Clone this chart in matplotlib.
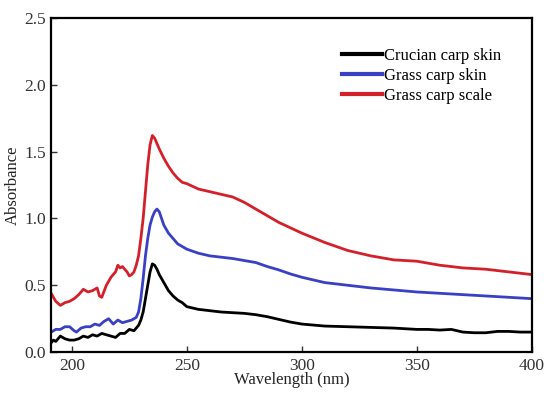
import matplotlib
matplotlib.use("Agg")
import matplotlib.pyplot as plt

# Crucian carp skin (black)
wl_black = [191, 192, 193, 195, 197, 199, 201, 203, 205, 207, 209, 211, 213, 215, 217, 219, 221, 223, 225, 227, 229, 230, 231, 232, 233, 234, 235, 236, 237, 238, 240, 242, 244, 246, 248, 250, 255, 260, 265, 270, 275, 280, 285, 290, 295, 300, 310, 320, 330, 340, 350, 355, 360, 365, 370, 375, 380, 385, 390, 395, 400]
ab_black = [0.07, 0.09, 0.08, 0.12, 0.10, 0.09, 0.09, 0.10, 0.12, 0.11, 0.13, 0.12, 0.14, 0.13, 0.12, 0.11, 0.14, 0.14, 0.17, 0.16, 0.20, 0.24, 0.30, 0.40, 0.50, 0.60, 0.66, 0.65, 0.62, 0.58, 0.52, 0.46, 0.42, 0.39, 0.37, 0.34, 0.32, 0.31, 0.30, 0.295, 0.29, 0.28, 0.265, 0.245, 0.225, 0.21, 0.195, 0.19, 0.185, 0.18, 0.17, 0.17, 0.165, 0.17, 0.15, 0.145, 0.145, 0.155, 0.155, 0.15, 0.15]

# Grass carp skin (blue)
wl_blue = [191, 193, 195, 197, 199, 201, 202, 204, 206, 208, 210, 212, 214, 216, 218, 220, 222, 224, 226, 228, 229, 230, 231, 232, 233, 234, 235, 236, 237, 238, 239, 240, 242, 244, 246, 248, 250, 255, 260, 265, 270, 275, 280, 285, 290, 295, 300, 310, 320, 330, 340, 350, 360, 370, 380, 390, 400]
ab_blue = [0.15, 0.17, 0.17, 0.19, 0.19, 0.16, 0.15, 0.18, 0.19, 0.19, 0.21, 0.20, 0.23, 0.25, 0.21, 0.24, 0.22, 0.23, 0.24, 0.26, 0.30, 0.40, 0.55, 0.72, 0.85, 0.95, 1.01, 1.05, 1.07, 1.05, 1.00, 0.95, 0.89, 0.85, 0.81, 0.79, 0.77, 0.74, 0.72, 0.71, 0.70, 0.685, 0.67, 0.64, 0.615, 0.585, 0.56, 0.52, 0.50, 0.48, 0.465, 0.45, 0.44, 0.43, 0.42, 0.41, 0.40]

# Grass carp scale (red)
wl_red = [191, 193, 195, 197, 199, 201, 203, 205, 207, 209, 211, 212, 213, 215, 217, 219, 220, 221, 222, 224, 225, 226, 227, 228, 229, 230, 231, 232, 233, 234, 235, 236, 237, 238, 240, 242, 244, 246, 248, 250, 255, 260, 265, 270, 275, 280, 285, 290, 295, 300, 310, 320, 330, 340, 350, 360, 370, 380, 390, 395, 400]
ab_red = [0.44, 0.38, 0.35, 0.37, 0.38, 0.40, 0.43, 0.47, 0.45, 0.46, 0.48, 0.42, 0.41, 0.50, 0.56, 0.60, 0.65, 0.63, 0.64, 0.60, 0.57, 0.58, 0.60, 0.65, 0.72, 0.85, 1.00, 1.20, 1.40, 1.55, 1.62, 1.60, 1.56, 1.52, 1.45, 1.39, 1.34, 1.30, 1.27, 1.26, 1.22, 1.20, 1.18, 1.16, 1.12, 1.07, 1.02, 0.97, 0.93, 0.89, 0.82, 0.76, 0.72, 0.69, 0.68, 0.65, 0.63, 0.62, 0.60, 0.59, 0.58]

labels = ["Crucian carp skin", "Grass carp skin", "Grass carp scale"]
colors = ["#000000", "#3a40c4", "#d4202a"]

plt.rcParams['font.family'] = ['Liberation Serif', 'DejaVu Serif']

fig = plt.figure(figsize=(5.5, 3.97), dpi=100)
ax = fig.add_axes([0.093, 0.113, 0.874, 0.842])

for wl, ab, lab, c in zip([wl_black, wl_blue, wl_red], [ab_black, ab_blue, ab_red], labels, colors):
    ax.plot(wl, ab, color=c, lw=2.0, label=lab)

ax.set_xlim(191, 400)
ax.set_ylim(0, 2.5)
ax.set_xticks([200, 250, 300, 350, 400])
ax.set_yticks([0.0, 0.5, 1.0, 1.5, 2.0, 2.5])
ax.set_yticklabels(["0.0", "0.5", "1.0", "1.5", "2.0", "2.5"])
ax.tick_params(direction='in', length=4, width=1.0, labelsize=12.5, color='#333333', labelcolor='#333333', pad=4)
for s in ax.spines.values():
    s.set_linewidth(1.6)
ax.set_xlabel("Wavelength (nm)", fontsize=12, labelpad=-1, color='#222222')
ax.set_ylabel("Absorbance", fontsize=12, labelpad=2, color='#222222')

leg = ax.legend(loc='upper left', bbox_to_anchor=(0.605, 0.91), frameon=False, fontsize=12,
                handlelength=2.4, handletextpad=0.15, labelspacing=0.25, borderaxespad=0, borderpad=0)
for line in leg.get_lines():
    line.set_linewidth(3)

fig.savefig("out.png", dpi=100)
